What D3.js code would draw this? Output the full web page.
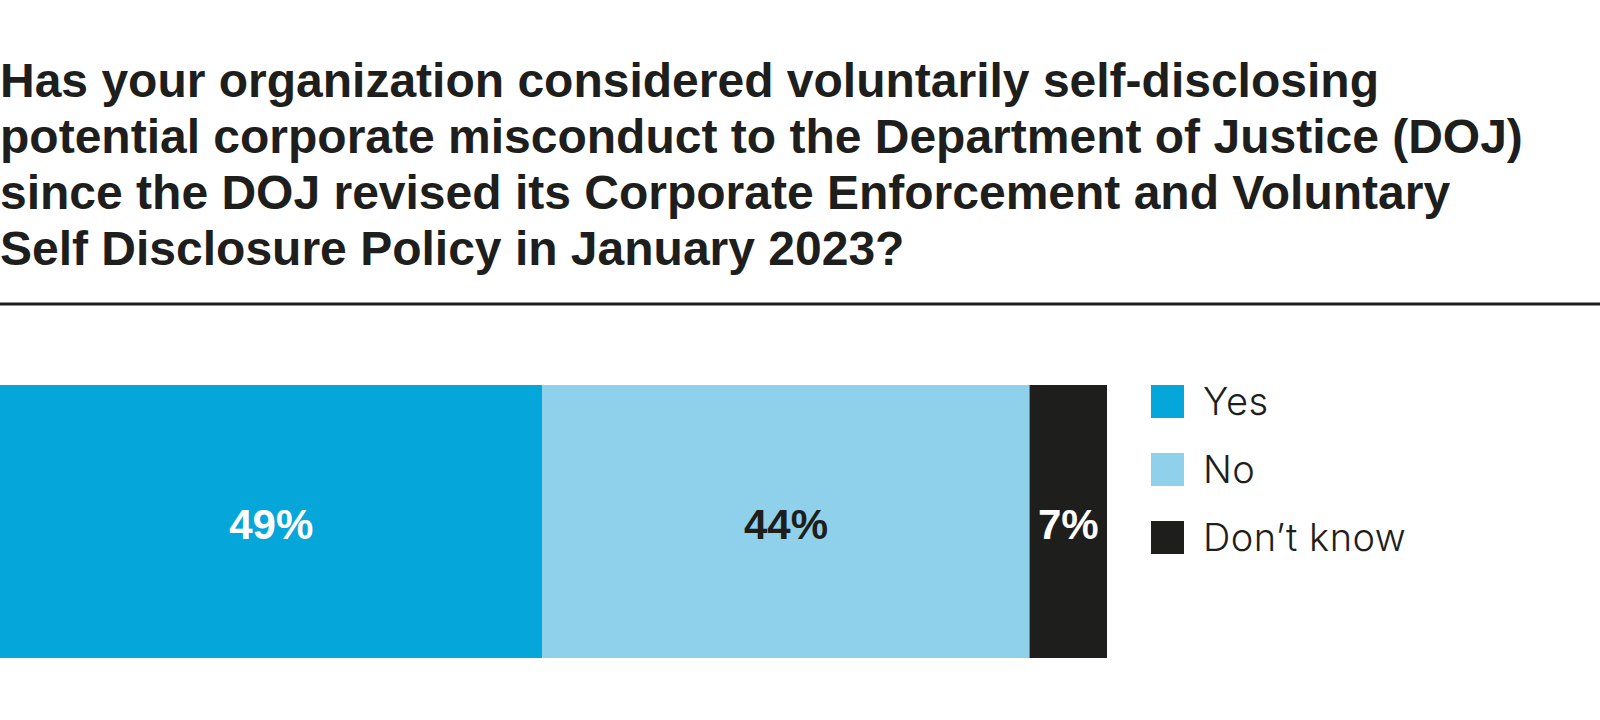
<!DOCTYPE html>
<html>
<head>
<meta charset="utf-8">
<script src="https://cdn.jsdelivr.net/npm/d3@7/dist/d3.min.js"></script>
<style>
  body { margin: 0; background: #fff; }
  svg { display: block; }
</style>
</head>
<body>
<svg id="chart" width="1600" height="720"></svg>
<script>
// data
var titleLines = [
  "Has your organization considered voluntarily self-disclosing",
  "potential corporate misconduct to the Department of Justice (DOJ)",
  "since the DOJ revised its Corporate Enforcement and Voluntary",
  "Self Disclosure Policy in January 2023?"
];
var categories = ["Yes", "No", "Don\u2019t know"];
var values = [49, 44, 7];
var colors = ["#05a6da", "#8fd1eb", "#1e1e1c"];
var labelColors = ["#ffffff", "#1e1e1c", "#ffffff"];

var svg = d3.select("#chart");
var ink = "#1e1e1c";

// title
svg.append("g")
  .selectAll("text")
  .data(titleLines)
  .enter().append("text")
    .attr("x", 0)
    .attr("y", (d, i) => 97 + i * 56)
    .attr("font-family", "'Liberation Sans', Arial, sans-serif")
    .attr("font-weight", "bold")
    .attr("font-size", "48px")
    .attr("fill", ink)
    .text(d => d);

// rule under title
svg.append("line")
  .attr("x1", 0).attr("x2", 1600)
  .attr("y1", 304).attr("y2", 304)
  .attr("stroke", ink)
  .attr("stroke-width", 3);

// stacked bar
var barTop = 385, barHeight = 273;
var xScale = d3.scaleLinear()
  .domain([0, d3.sum(values)])
  .range([0, 1107]);

var stack = [];
var acc = 0;
values.forEach((v, i) => {
  stack.push({cat: categories[i], v: v, x0: acc, x1: acc + v, i: i});
  acc += v;
});

var seg = svg.append("g").selectAll("g")
  .data(stack)
  .enter().append("g");

seg.append("rect")
  .attr("x", d => xScale(d.x0))
  .attr("y", barTop)
  .attr("width", d => xScale(d.x1) - xScale(d.x0))
  .attr("height", barHeight)
  .attr("fill", d => colors[d.i]);

seg.append("text")
  .attr("x", d => (xScale(d.x0) + xScale(d.x1)) / 2)
  .attr("y", barTop + barHeight / 2 + 17)
  .attr("text-anchor", "middle")
  .attr("font-family", "'Liberation Sans', Arial, sans-serif")
  .attr("font-weight", "bold")
  .attr("font-size", "42px")
  .attr("fill", d => labelColors[d.i])
  .text(d => d.v + "%");

// legend
var legend = svg.append("g")
  .attr("transform", "translate(1151,385)");

var item = legend.selectAll("g")
  .data(categories)
  .enter().append("g")
    .attr("transform", (d, i) => "translate(0," + (i * 68) + ")");

item.append("rect")
  .attr("width", 33)
  .attr("height", 33)
  .attr("fill", (d, i) => colors[i]);

item.append("text")
  .attr("x", 52)
  .attr("y", 30)
  .attr("font-family", "Inter, sans-serif")
  .attr("font-weight", 300)
  .attr("font-size", "38px")
  .attr("letter-spacing", "0.5px")
  .attr("fill", ink)
  .text(d => d);
</script>
</body>
</html>
